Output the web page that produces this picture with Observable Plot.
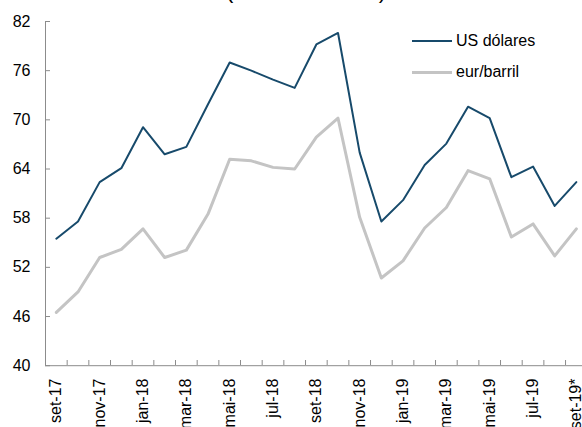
<!DOCTYPE html>
<html><head><meta charset="utf-8">
<script src="https://cdn.jsdelivr.net/npm/d3@7"></script>
<script src="https://cdn.jsdelivr.net/npm/@observablehq/plot@0.6"></script>
<style>
html,body{margin:0;padding:0;background:#fff;overflow:hidden;width:582px;height:427px}
#wrap{position:relative;width:582px;height:427px;overflow:hidden;font-family:"Liberation Sans",Arial,sans-serif}
#title{position:absolute;left:0;width:612px;text-align:center;top:-20px;font-size:22px;line-height:22px;color:#000;white-space:nowrap}
.leg{position:absolute;left:412px;height:20px;display:flex;align-items:center;font-size:16px;color:#000}
.leg span.sw{display:inline-block;width:40px;margin-right:4px}
#chart{position:absolute;left:0;top:0}
</style></head>
<body>
<div id="wrap">
  <div id="chart"></div>
  <div id="title"></div>
  <div id="legend"></div>
</div>
<script>
const months = ["set-17","out-17","nov-17","dez-17","jan-18","fev-18","mar-18","abr-18","mai-18","jun-18","jul-18","ago-18","set-18","out-18","nov-18","dez-18","jan-19","fev-19","mar-19","abr-19","mai-19","jun-19","jul-19","ago-19","set-19*"];
const usd = [55.5, 57.6, 62.4, 64.1, 69.1, 65.8, 66.7, 71.9, 77.0, 76.0, 74.9, 73.9, 79.2, 80.6, 66.0, 57.6, 60.2, 64.5, 67.1, 71.6, 70.2, 63.0, 64.3, 59.5, 62.4];
const eur = [46.5, 49.0, 53.2, 54.2, 56.7, 53.2, 54.1, 58.5, 65.2, 65.0, 64.2, 64.0, 67.9, 70.2, 58.1, 50.7, 52.8, 56.8, 59.3, 63.8, 62.8, 55.7, 57.3, 53.4, 56.7];
const yTicks = [40, 46, 52, 58, 64, 70, 76, 82];
const seriesNames = ["US dólares", "eur/barril"];
const seriesColors = ["#174a6b", "#c4c4c4"];
const titleText = "(em US dólares)";

const idx = months.map((_, i) => i);
const boundaries = d3.range(-0.5, months.length, 1);
const labelIdx = idx.filter(i => i % 2 === 0);

const chart = Plot.plot({
  width: 582, height: 427,
  marginLeft: 45, marginRight: 0, marginTop: 21, marginBottom: 62,
  style: {fontFamily: '"Liberation Sans", Arial, sans-serif', fontSize: "16px", color: "#000", background: "transparent"},
  x: {domain: [-0.5, months.length - 0.5], range: [45, 586.7]},
  y: {domain: [40, 82], range: [365.2, 21]},
  marks: [
    Plot.ruleX([-0.5], {y1: 40, y2: 82, stroke: "#8c8c8c", strokeWidth: 1}),
    Plot.ruleY([40], {x1: -0.5, x2: months.length - 0.5, stroke: "#8c8c8c", strokeWidth: 1}),
    Plot.axisY({ticks: yTicks, tickSize: -5, tickPadding: 20, stroke: "#8c8c8c", fill: "#000", fontSize: 16, tickFormat: d => String(d)}),
    Plot.axisX({ticks: boundaries, tickSize: -5, stroke: "#8c8c8c", tickFormat: () => ""}),
    Plot.axisX({ticks: labelIdx, tickSize: 0, tickPadding: 13, tickRotate: -90, fill: "#000", fontSize: 16, tickFormat: i => months[i]}),
    Plot.line(eur, {x: (d, i) => idx[i], y: d => d, stroke: seriesColors[1], strokeWidth: 3}),
    Plot.line(usd, {x: (d, i) => idx[i], y: d => d, stroke: seriesColors[0], strokeWidth: 2})
  ]
});
document.getElementById("chart").appendChild(chart);
document.getElementById("title").textContent = titleText;
const leg = document.getElementById("legend");
seriesNames.forEach((name, i) => {
  const row = document.createElement("div");
  row.className = "leg";
  row.style.top = (i === 0 ? 31 : 62) + "px";
  const sw = document.createElement("span");
  sw.className = "sw";
  sw.style.height = (i === 0 ? 2 : 3) + "px";
  sw.style.background = seriesColors[i];
  const t = document.createElement("span");
  t.textContent = name;
  row.appendChild(sw); row.appendChild(t);
  leg.appendChild(row);
});
</script>
</body></html>
